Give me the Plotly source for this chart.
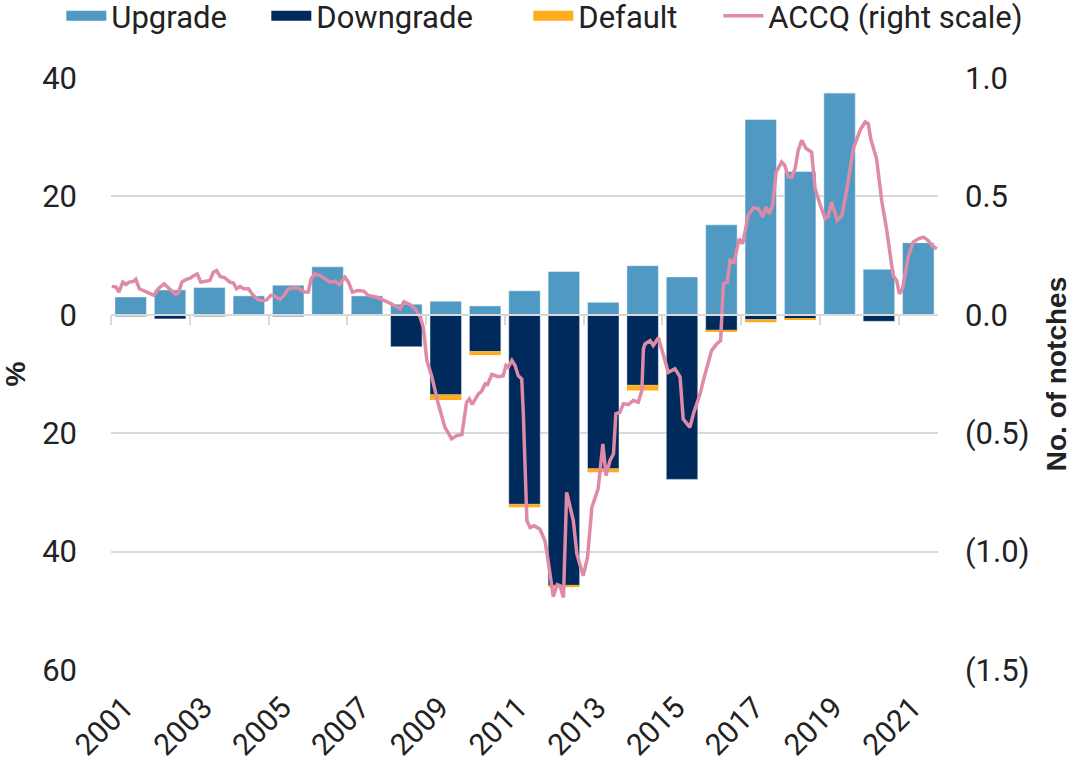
import plotly.graph_objects as go

years = list(range(2001, 2022))
upgrade = [3.0, 4.2, 4.6, 3.2, 5.0, 8.1, 3.2, 1.8, 2.3, 1.5, 4.05, 7.3, 2.1, 8.3, 6.4,
           15.2, 33.0, 24.2, 37.5, 7.7, 12.2]
downgrade = [-0.3, -0.7, -0.3, -0.2, -0.3, -0.1, -0.2, -5.4, -13.5, -6.2, -32.0, -45.7, -26.0,
             -11.9, -27.8, -2.6, -0.8, -0.7, 0.0, -1.1, 0.0]
default = [0.0, 0.0, 0.0, 0.0, 0.0, 0.0, 0.0, 0.0, -0.9, -0.6, -0.5, -0.3, -0.6, -0.9, 0.0,
           -0.25, -0.45, -0.1, 0.0, 0.0, -0.2]

accq_t = [2000.52, 2000.63, 2000.70, 2000.80, 2000.88, 2000.96, 2001.07, 2001.13, 2001.22, 2001.36,
          2001.49, 2001.59, 2001.70, 2001.85, 2002.00, 2002.15, 2002.21, 2002.30, 2002.40, 2002.51,
          2002.61, 2002.69, 2002.78, 2002.91, 2003.01, 2003.10, 2003.18, 2003.27, 2003.39, 2003.52,
          2003.61, 2003.69, 2003.78, 2003.86, 2003.99, 2004.11, 2004.24, 2004.37, 2004.45, 2004.56,
          2004.64, 2004.79, 2004.89, 2005.00, 2005.13, 2005.28, 2005.40, 2005.51, 2005.58, 2005.68,
          2005.81, 2005.93, 2006.06, 2006.19, 2006.30, 2006.44, 2006.53, 2006.63, 2006.78, 2006.92,
          2007.03, 2007.25, 2007.41, 2007.58, 2007.71, 2007.84, 2007.94, 2008.09, 2008.22, 2008.35,
          2008.43, 2008.52, 2008.64, 2008.81, 2008.98, 2009.15, 2009.28, 2009.41, 2009.53, 2009.60,
          2009.67, 2009.83, 2009.91, 2010.00, 2010.06, 2010.17, 2010.34, 2010.46, 2010.53, 2010.59,
          2010.68, 2010.76, 2010.84, 2010.93, 2010.97, 2011.06, 2011.14, 2011.24, 2011.39, 2011.52,
          2011.60, 2011.73, 2011.83, 2011.90, 2011.99, 2012.07, 2012.24, 2012.33, 2012.49, 2012.60,
          2012.71, 2012.87, 2012.99, 2013.07, 2013.17, 2013.26, 2013.32, 2013.42, 2013.51, 2013.64,
          2013.76, 2013.89, 2013.98, 2014.02, 2014.06, 2014.19, 2014.27, 2014.40, 2014.53, 2014.65,
          2014.82, 2014.95, 2015.03, 2015.20, 2015.29, 2015.46, 2015.54, 2015.75, 2015.88, 2015.98,
          2016.05, 2016.15, 2016.22, 2016.32, 2016.45, 2016.54, 2016.68, 2016.81, 2016.94, 2017.05,
          2017.13, 2017.22, 2017.30, 2017.39, 2017.53, 2017.61, 2017.70, 2017.79, 2017.87, 2017.95,
          2018.04, 2018.15, 2018.29, 2018.38, 2018.50, 2018.63, 2018.71, 2018.80, 2018.94, 2019.06,
          2019.18, 2019.35, 2019.52, 2019.65, 2019.73, 2019.79, 2019.94, 2020.07, 2020.20, 2020.36,
          2020.45, 2020.52, 2020.60, 2020.75, 2020.87, 2021.00, 2021.13, 2021.25, 2021.34, 2021.47]
accq_v = [0.120, 0.117, 0.096, 0.138, 0.128, 0.138, 0.141, 0.150, 0.110, 0.100,
          0.089, 0.082, 0.110, 0.131, 0.107, 0.086, 0.091, 0.138, 0.149, 0.155,
          0.166, 0.173, 0.138, 0.142, 0.145, 0.180, 0.187, 0.162, 0.156, 0.138,
          0.134, 0.110, 0.120, 0.110, 0.110, 0.082, 0.063, 0.060, 0.063, 0.082,
          0.080, 0.065, 0.082, 0.110, 0.114, 0.112, 0.096, 0.096, 0.152, 0.173,
          0.166, 0.152, 0.138, 0.141, 0.128, 0.159, 0.138, 0.096, 0.103, 0.100,
          0.082, 0.074, 0.060, 0.049, 0.038, 0.025, 0.055, 0.044, 0.025, -0.010,
          -0.052, -0.193, -0.257, -0.376, -0.475, -0.524, -0.510, -0.506, -0.369, -0.355,
          -0.379, -0.334, -0.323, -0.292, -0.295, -0.252, -0.261, -0.257, -0.214, -0.221,
          -0.193, -0.214, -0.257, -0.271, -0.418, -0.869, -0.898, -0.891, -0.905, -0.954,
          -1.039, -1.191, -1.140, -1.144, -1.194, -0.750, -0.869, -1.010, -1.102, -1.025,
          -0.813, -0.735, -0.545, -0.679, -0.616, -0.587, -0.418, -0.412, -0.376, -0.379,
          -0.362, -0.369, -0.320, -0.144, -0.123, -0.109, -0.130, -0.097, -0.172, -0.243,
          -0.228, -0.262, -0.440, -0.475, -0.418, -0.334, -0.278, -0.151, -0.123, -0.109,
          0.131, 0.138, 0.230, 0.222, 0.321, 0.300, 0.420, 0.452, 0.448, 0.413,
          0.455, 0.427, 0.462, 0.603, 0.645, 0.631, 0.582, 0.582, 0.617, 0.694,
          0.737, 0.702, 0.687, 0.533, 0.469, 0.406, 0.416, 0.476, 0.399, 0.420,
          0.525, 0.702, 0.779, 0.815, 0.807, 0.744, 0.659, 0.483, 0.356, 0.166,
          0.145, 0.089, 0.110, 0.251, 0.307, 0.321, 0.328, 0.314, 0.293, 0.279]

label_years = list(range(2001, 2022, 2))
bound_ticks = [y - 0.5 for y in range(2001, 2022, 2)]
left_vals = [-60, -40, -20, 0, 20, 40]
left_text = ["60", "40", "20", "0", "20", "40"]
right_vals = [-1.5, -1.0, -0.5, 0.0, 0.5, 1.0]
right_text = ["(1.5)", "(1.0)", "(0.5)", "0.0", "0.5", "1.0"]

C_UP = "#4f99c3"
C_DOWN = "#002a5c"
C_DEF = "#ffad1d"
C_LINE = "#df8aa6"
GRID = "#d9d9d9"
FONT = "Roboto"
FS = 31

fig = go.Figure()
edge = dict(color="rgba(255,255,255,0.45)", width=1)
series = [("Upgrade", upgrade, C_UP, 150), ("Downgrade", downgrade, C_DOWN, 207), ("Default", default, C_DEF, 135)]
for name, vals, col, lw in series:
    fig.add_trace(go.Bar(x=years, y=vals, name=name, legendgroup=name, showlegend=False,
                         marker=dict(color=col, line=edge if col != C_DEF else dict(width=0)),
                         width=0.8))
# legend swatches (rectangular, as in the original legend)
for name, vals, col, lw in series:
    fig.add_trace(go.Scatter(x=[None], y=[None], name=name, legendgroup=name, mode="lines",
                             line=dict(color=col, width=21), hoverinfo="skip", legendwidth=lw))
fig.add_trace(go.Scatter(x=accq_t, y=accq_v, name="ACCQ (right scale)", mode="lines",
                         line=dict(color=C_LINE, width=3.5), xaxis="x2", yaxis="y2", legendwidth=254))

fig.update_layout(
    width=1076, height=765,
    margin=dict(l=111, r=138, t=78, b=95, autoexpand=False),
    paper_bgcolor="white", plot_bgcolor="white",
    barmode="relative", bargap=0.2,
    font=dict(family=FONT, size=FS, color="#222222"),
    showlegend=True,
    legend=dict(orientation="h", x=1.108, xanchor="right", y=1.15, yanchor="top",
                font=dict(size=FS), traceorder="normal", itemwidth=40,
                bgcolor="rgba(0,0,0,0)", tracegroupgap=0),
    xaxis=dict(range=[2000.5, 2021.5], tickvals=label_years, ticktext=[str(y) for y in label_years],
               tickangle=-45, tickfont=dict(size=30), showgrid=False, zeroline=False, showline=False,
               ticks="", ticklabelstandoff=13, ticklabelshift=-6, automargin=False),
    xaxis2=dict(overlaying="x", matches="x", anchor="free", position=0.6, side="bottom",
                showline=True, linecolor=GRID, linewidth=2, showgrid=False, zeroline=False,
                ticks="outside", tickvals=bound_ticks, ticklen=9, tickwidth=2, tickcolor=GRID,
                showticklabels=False, automargin=False),
    yaxis=dict(range=[-60, 40], tickvals=left_vals, ticktext=left_text, showgrid=True,
               gridcolor=GRID, gridwidth=1.5, zeroline=False, ticks="", ticklabelstandoff=33,
               automargin=False,
               title=dict(text="<b>%</b>", font=dict(family="Liberation Sans", size=28), standoff=18)),
    yaxis2=dict(range=[-1.5, 1.0], tickvals=right_vals, ticktext=right_text, overlaying="y",
                side="right", anchor="x2", showgrid=False, zeroline=False, ticks="",
                ticklabelstandoff=26, automargin=False,
                title=dict(text="<b>No. of notches</b>", font=dict(family="Liberation Sans", size=28),
                           standoff=17)),
)

fig.write_html("out.html", config={"displayModeBar": False},
               post_script="document.body.style.margin='0px';")
